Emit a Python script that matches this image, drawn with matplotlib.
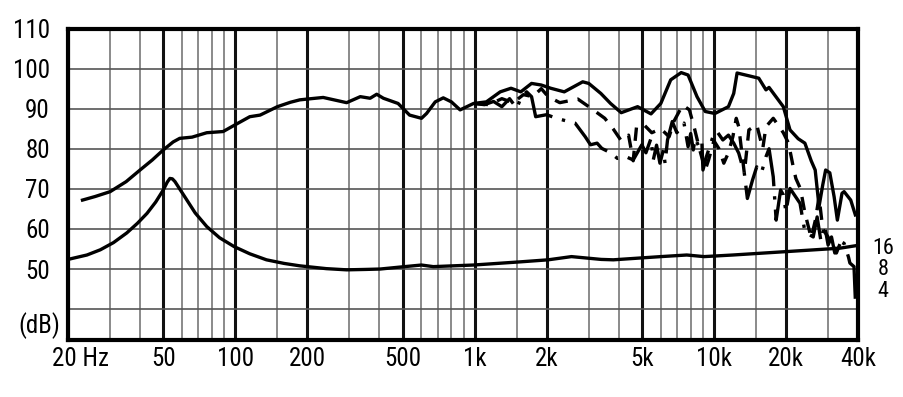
from matplotlib import pyplot as plt
from matplotlib.transforms import ScaledTranslation
import numpy as np

plt.rcParams['font.family'] = ['Roboto Condensed', 'Liberation Sans', 'DejaVu Sans']

# on-axis response
f_main = [23, 26, 30, 35, 40, 45, 50, 55, 58.6, 66, 76, 89, 100, 115, 127, 150, 170, 186, 200,
          233, 292, 333, 366, 390, 416, 479, 535, 600, 630, 685, 740, 800, 870, 990, 1120, 1280,
          1420, 1560, 1730, 1900, 2080, 2370, 2830, 3000, 3370, 3700, 4100, 4800, 5460, 6000,
          6600, 7300, 7800, 8500, 9200, 10100, 11500, 12100, 12500, 14000, 15400, 16500, 17000,
          19500, 20800, 22500, 24000, 25500, 26500, 27500, 28500, 29300, 30500, 31800, 32800,
          34300, 35000, 37300, 39000]
db_main = [67.2, 68.1, 69.3, 71.8, 74.7, 77.2, 79.7, 81.7, 82.6, 82.9, 84.0, 84.3, 86.0, 88.0,
           88.4, 90.5, 91.6, 92.2, 92.4, 92.8, 91.5, 93.0, 92.6, 93.6, 92.6, 91.3, 88.4, 87.6,
           88.8, 91.7, 92.7, 91.7, 89.7, 91.3, 91.7, 94.2, 95.1, 94.2, 96.3, 95.9, 95.1, 94.2,
           96.7, 96.3, 93.8, 91.3, 89.0, 90.5, 88.7, 91.3, 97.2, 99.0, 98.4, 93.0, 89.3, 88.8,
           90.5, 93.8, 98.9, 98.2, 97.6, 94.7, 95.3, 90.5, 84.7, 82.5, 81.4, 77.0, 74.7, 65.6,
           71.0, 74.7, 74.0, 68.0, 62.2, 68.9, 69.3, 67.2, 63.5]

# 30 degree response (dashed)
f_30 = [1000, 1150, 1300, 1450, 1600, 1750, 1900, 2030, 2270, 2500, 2700, 3000, 3250, 3500,
        3800, 4100, 4400, 4600, 4750, 5100, 5500, 6000, 6500, 6800, 7400, 7900, 8300, 8700,
        9200, 9500, 10000, 10500, 11000, 11500, 12000, 12400, 12700, 13400, 14000, 15100,
        16000, 16500, 17700, 18500, 19500, 20500, 21500, 22000, 23000, 24000, 25500, 26500,
        27500, 28500, 30000, 31000, 32500, 34000]
db_30 = [91.3, 91.0, 92.5, 91.5, 93.5, 93.0, 95.0, 93.0, 91.5, 92.0, 92.4, 90.5, 89.0, 87.6,
         84.9, 82.0, 83.4, 77.0, 85.5, 86.0, 84.0, 85.0, 83.0, 86.8, 90.9, 89.7, 85.0, 80.0,
         74.7, 77.2, 82.0, 80.0, 76.4, 79.0, 83.0, 87.6, 85.5, 73.9, 84.7, 86.0, 80.0, 85.5,
         87.6, 86.0, 84.0, 81.4, 75.2, 72.6, 70.0, 64.0, 57.8, 62.0, 68.0, 60.0, 58.0, 55.5,
         54.0, 57.0]

# 60 degree response
f_60 = [1000, 1100, 1200, 1300, 1400, 1500, 1570, 1650, 1730, 1800, 2000, 2200, 2400, 2630,
        2900, 3050, 3250, 3400, 3700, 3950, 4300, 4600, 5000, 5200, 5460, 5580, 5760, 5950,
        6150, 6250, 6400, 6700, 7000, 7500, 7800, 8000, 8200, 8350, 8600, 8900, 9000, 9300,
        9600, 10000, 10300, 10900, 11500, 12100, 12700, 13400, 13800, 14500, 15100, 15800,
        16500, 17000, 17700, 18200, 19000, 19500, 20000, 20800, 22900, 24000, 26000, 27000,
        28000, 29000, 30000, 31000, 32000, 33500, 35000, 36500, 37000, 38500, 39000]
db_60 = [91.3, 91.0, 91.8, 90.5, 92.5, 90.1, 93.0, 94.2, 93.0, 88.0, 88.5, 87.6, 87.0, 86.4,
         83.0, 81.0, 81.4, 80.1, 79.0, 77.6, 78.0, 77.2, 81.0, 79.0, 82.6, 77.2, 80.9, 76.4,
         79.7, 76.4, 82.2, 86.8, 84.0, 86.4, 80.5, 83.8, 79.7, 82.6, 80.9, 82.2, 74.7, 78.0,
         80.5, 83.8, 84.3, 82.2, 83.4, 81.4, 78.9, 73.9, 67.6, 72.2, 75.5, 74.0, 78.0, 80.0,
         73.0, 62.2, 69.7, 68.5, 64.3, 70.1, 66.4, 59.3, 58.0, 63.0, 57.0, 61.0, 56.0, 58.0,
         54.0, 57.0, 56.4, 53.0, 51.5, 50.6, 42.3]

# impedance curve
f_imp = [20, 24, 27.3, 31, 35.2, 39, 42.8, 46.5, 50, 52, 53.3, 54.6, 56, 59, 62.8, 68, 76, 86,
         98.9, 115, 135, 160, 186, 200, 240, 292, 350, 403, 490, 600, 672, 990, 1560, 2030,
         2540, 3380, 3800, 6000, 7700, 9100, 12000, 19500, 33600, 39000]
db_imp = [52.4, 53.5, 54.8, 56.6, 59.0, 61.4, 63.9, 66.7, 69.7, 71.7, 72.6, 72.5, 71.8, 69.7,
          67.2, 64.0, 60.6, 57.8, 55.6, 53.8, 52.3, 51.4, 50.8, 50.6, 50.1, 49.8, 49.9, 50.0,
          50.5, 51.0, 50.6, 51.0, 51.8, 52.3, 53.1, 52.4, 52.3, 53.1, 53.5, 53.1, 53.5, 54.3,
          55.2, 55.8]

x_major = [20, 50, 100, 200, 500, 1000, 2000, 5000, 10000, 20000, 40000]
x_labels = ['20 Hz', '50', '100', '200', '500', '1k', '2k', '5k', '10k', '20k', '40k']
x_minor = [30, 40, 60, 70, 80, 90, 150, 300, 400, 600, 700, 800, 900, 1500, 3000, 4000,
           6000, 7000, 8000, 9000, 15000, 30000]
y_ticks = [40, 50, 60, 70, 80, 90, 100, 110]
y_labels = ['', '50', '60', '70', '80', '90', '100', '110']
imp_labels = ['16', '8', '4']
imp_label_y = [55.0, 49.8, 44.5]

fig = plt.figure(figsize=(9.04, 3.97), dpi=100)
ax = fig.add_axes([0.0752, 0.1436, 0.8739, 0.7846])

lw = 2.4
ax.plot(f_main, db_main, color='black', lw=lw, solid_joinstyle='round', zorder=5)
ax.plot(f_30, db_30, color='black', lw=lw, linestyle=(0, (4, 3)), zorder=4)
ax.plot(f_60, db_60, color='black', lw=lw, linestyle=(0, (14, 3, 1, 3)), zorder=4)
ax.plot(f_imp, db_imp, color='black', lw=lw, solid_joinstyle='round', zorder=5)

ax.set_xscale('log')
ax.set_xlim(20, 40000)
ax.set_ylim(32.3, 110)

ax.set_xticks(x_major)
ax.set_xticklabels(x_labels)
ax.set_xticks(x_minor, minor=True)
ax.set_xticklabels([], minor=True)
ax.set_yticks(y_ticks)
ax.set_yticklabels(y_labels)

ax.grid(which='major', axis='x', color='#111111', linewidth=2.2)
ax.grid(which='minor', axis='x', color='#777777', linewidth=1.2)
ax.grid(which='major', axis='y', color='#555555', linewidth=1.2)
ax.tick_params(which='both', length=0)
ax.tick_params(axis='x', labelsize=18, pad=5)
ax.tick_params(axis='y', labelsize=18, pad=13)

# shift "20 Hz" so the number sits under the axis edge
lab = ax.get_xticklabels()[0]
lab.set_transform(lab.get_transform() + ScaledTranslation(0.13, 0, fig.dpi_scale_trans))

for s in ax.spines.values():
    s.set_linewidth(3)

ax.text(-0.010, 36, '(dB)', transform=ax.get_yaxis_transform(), ha='right', va='center',
        fontsize=18)
for t, y in zip(imp_labels, imp_label_y):
    ax.text(1.032, y, t, transform=ax.get_yaxis_transform(), ha='center', va='center',
            fontsize=16)

fig.savefig('out.png', dpi=100)
